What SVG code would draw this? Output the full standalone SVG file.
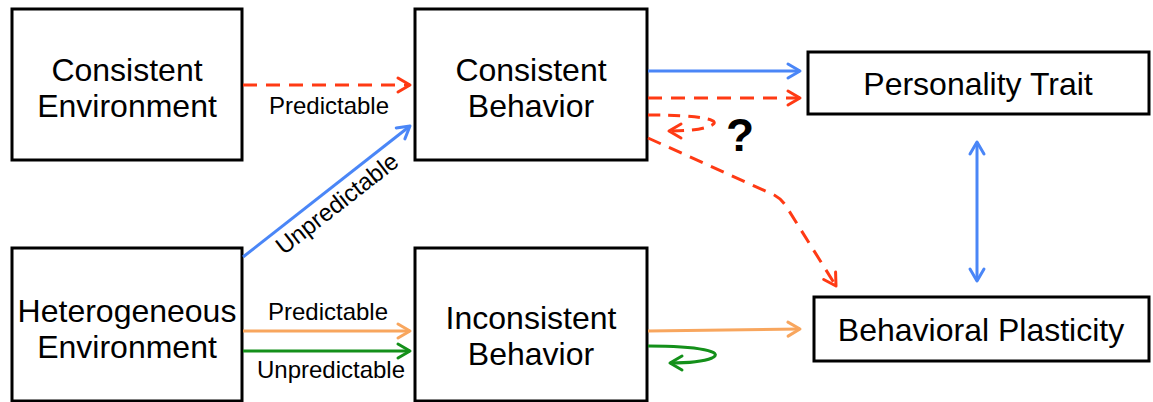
<svg xmlns="http://www.w3.org/2000/svg" width="1153" height="402" viewBox="0 0 1153 402">
<style>
.box{fill:#fff;stroke:#000;stroke-width:3}
.big{font-family:"Liberation Sans",Arial,sans-serif;font-size:32px;fill:#000;text-anchor:middle}
.lbl{font-family:"Liberation Sans",Arial,sans-serif;font-size:24px;fill:#000;text-anchor:middle}
.c{fill:none;stroke-width:3}
.blue{stroke:#4a86f7}
.red{stroke:#ff3a14;stroke-dasharray:14,9}
.orange{stroke:#f8a65e}
.green{stroke:#14901a}
</style>
<defs>
<marker id="mb" viewBox="0 0 16 16" refX="14" refY="8" markerWidth="16" markerHeight="16" markerUnits="userSpaceOnUse" orient="auto-start-reverse" overflow="visible"><path d="M2,1 L14,8 L2,15" fill="none" stroke="#4a86f7" stroke-width="3" stroke-linecap="round" stroke-linejoin="round"/></marker>
<marker id="mr" viewBox="0 0 16 16" refX="14" refY="8" markerWidth="16" markerHeight="16" markerUnits="userSpaceOnUse" orient="auto" overflow="visible"><path d="M2,1 L14,8 L2,15" fill="none" stroke="#ff3a14" stroke-width="3" stroke-linecap="round" stroke-linejoin="round"/></marker>
<marker id="mo" viewBox="0 0 16 16" refX="14" refY="8" markerWidth="16" markerHeight="16" markerUnits="userSpaceOnUse" orient="auto" overflow="visible"><path d="M2,1 L14,8 L2,15" fill="none" stroke="#f8a65e" stroke-width="3" stroke-linecap="round" stroke-linejoin="round"/></marker>
<marker id="mg" viewBox="0 0 16 16" refX="14" refY="8" markerWidth="16" markerHeight="16" markerUnits="userSpaceOnUse" orient="auto" overflow="visible"><path d="M2,1 L14,8 L2,15" fill="none" stroke="#14901a" stroke-width="3" stroke-linecap="round" stroke-linejoin="round"/></marker>
</defs>

<g id="consistent-environment">
<rect class="box" x="12" y="9" width="230" height="151"/>
<text class="big" x="127" y="81">Consistent</text>
<text class="big" x="127" y="117">Environment</text>
</g>
<g id="consistent-behavior">
<rect class="box" x="415" y="9" width="232" height="151"/>
<text class="big" x="531" y="81">Consistent</text>
<text class="big" x="531" y="117">Behavior</text>
</g>
<g id="heterogeneous-environment">
<rect class="box" x="12" y="248" width="230" height="153"/>
<text class="big" x="127" y="322">Heterogeneous</text>
<text class="big" x="127" y="358">Environment</text>
</g>
<g id="inconsistent-behavior">
<rect class="box" x="415" y="248" width="232" height="153"/>
<text class="big" x="531" y="329">Inconsistent</text>
<text class="big" x="531" y="365">Behavior</text>
</g>
<g id="personality-trait">
<rect class="box" x="808" y="52" width="341" height="62"/>
<text class="big" x="978" y="95">Personality Trait</text>
</g>
<g id="behavioral-plasticity">
<rect class="box" x="814" y="297" width="335" height="64"/>
<text class="big" x="981" y="341">Behavioral Plasticity</text>
</g>

<g id="connectors">
<path class="c red" d="M243,85 L410,85" marker-end="url(#mr)"/>
<text class="lbl" x="329" y="114">Predictable</text>
<path class="c blue" d="M243,257 L410,126" marker-end="url(#mb)"/>
<text class="lbl" transform="translate(342,210) rotate(-38)" x="0" y="0">Unpredictable</text>
<path class="c orange" d="M243,331 L410,331" marker-end="url(#mo)"/>
<text class="lbl" x="328" y="320">Predictable</text>
<path class="c green" d="M243,351 L410,351" marker-end="url(#mg)"/>
<text class="lbl" x="331" y="378">Unpredictable</text>
<path class="c blue" d="M648,71 L800,71" marker-end="url(#mb)"/>
<path class="c red" d="M648,98 L800,98" marker-end="url(#mr)"/>
<path class="c red" d="M648,115 C700,115 725,120 710,126 C700,130 685,131 669,131" marker-end="url(#mr)" style="stroke-dasharray:12,8"/>
<text x="740" y="151" style="font-family:'Liberation Sans',Arial,sans-serif;font-size:46px;font-weight:bold;text-anchor:middle">?</text>
<path class="c red" d="M648,138 L770,193 Q780,197 786,206 L836,286" marker-end="url(#mr)"/>
<path class="c orange" d="M648,331 L800,329" marker-end="url(#mo)"/>
<path class="c green" d="M648,346 C700,346 725,352 712,358 C702,362 688,363 670,363" marker-end="url(#mg)"/>
<path class="c blue" d="M977,142 L977,281" marker-start="url(#mb)" marker-end="url(#mb)"/>
</g>
</svg>
